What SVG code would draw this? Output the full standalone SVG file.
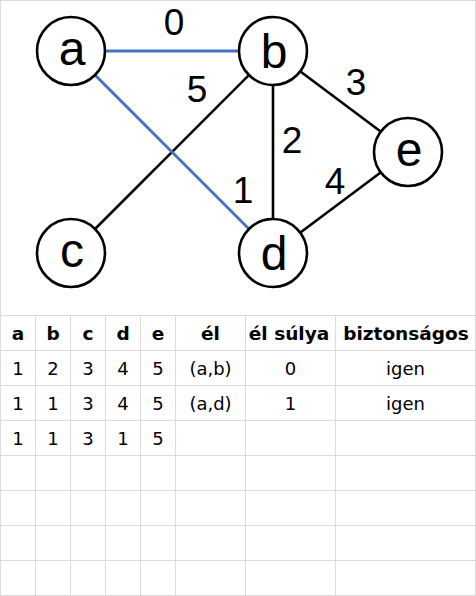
<svg xmlns="http://www.w3.org/2000/svg" width="476" height="596" viewBox="0 0 476 596">
<style>
.grid{stroke:#dadada;stroke-width:1;fill:none}
.edge{stroke:#000;stroke-width:2.6;fill:none}
.sel{stroke:#4472c4;stroke-width:3;fill:none}
.node circle{fill:#fff;stroke:#000;stroke-width:2.6}
.node text{font-family:"Liberation Sans",Arial,sans-serif;font-size:48px;text-anchor:middle;fill:#000}
.w{font-family:"Liberation Sans",Arial,sans-serif;font-size:37px;text-anchor:middle;fill:#000}
.th{font-family:"DejaVu Sans",sans-serif;font-weight:bold;font-size:18.5px;text-anchor:middle;fill:#000}
.td{font-family:"DejaVu Sans",sans-serif;font-size:18px;text-anchor:middle;fill:#000}
</style>
<rect x="0" y="0" width="476" height="596" fill="#fff"/>
<g id="grid" class="grid">
<rect x="0.5" y="0.5" width="475" height="595"/>
<path d="M0 315.5H476M0 350.5H476M0 385.5H476M0 420.5H476M0 455.5H476M0 490.5H476M0 525.5H476M0 560.5H476"/>
<path d="M35.5 315.5V596M70.5 315.5V596M105.5 315.5V596M140.5 315.5V596M175.5 315.5V596M245.5 315.5V596M335.5 315.5V596"/>
</g>
<g id="connectors">
<line class="edge" x1="273" y1="51" x2="71" y2="253"/>
<line class="edge" x1="273" y1="51" x2="273" y2="253"/>
<line class="edge" x1="273" y1="51" x2="408" y2="152"/>
<line class="edge" x1="273" y1="253" x2="408" y2="152"/>
<line class="sel" x1="71" y1="51" x2="273" y2="51"/>
<line class="sel" x1="71" y1="51" x2="273" y2="253"/>
<text class="w" x="174" y="34.5">0</text>
<text class="w" x="197" y="102">5</text>
<text class="w" x="356" y="95">3</text>
<text class="w" x="292" y="153">2</text>
<text class="w" x="243" y="203">1</text>
<text class="w" x="335" y="194">4</text>
</g>
<g id="node-a" class="node"><circle cx="71" cy="51" r="34"/><text x="72" y="65">a</text></g>
<g id="node-b" class="node"><circle cx="273" cy="51" r="34"/><text x="274" y="67.5">b</text></g>
<g id="node-c" class="node"><circle cx="71" cy="253" r="34"/><text x="72" y="267">c</text></g>
<g id="node-d" class="node"><circle cx="273" cy="253" r="34"/><text x="274" y="269.5">d</text></g>
<g id="node-e" class="node"><circle cx="408" cy="152" r="34"/><text x="409" y="166">e</text></g>
<g id="table">
<text class="th" x="18" y="340">a</text>
<text class="th" x="53" y="340">b</text>
<text class="th" x="88" y="340">c</text>
<text class="th" x="123" y="340">d</text>
<text class="th" x="158" y="340">e</text>
<text class="th" x="210.5" y="340">él</text>
<text class="th" x="289" y="340">él súlya</text>
<text class="th" x="406" y="340">biztonságos</text>
<text class="td" x="18" y="375">1</text>
<text class="td" x="53" y="375">2</text>
<text class="td" x="88" y="375">3</text>
<text class="td" x="123" y="375">4</text>
<text class="td" x="158" y="375">5</text>
<text class="td" x="210.5" y="375">(a,b)</text>
<text class="td" x="290.5" y="375">0</text>
<text class="td" x="405.5" y="375">igen</text>
<text class="td" x="18" y="410">1</text>
<text class="td" x="53" y="410">1</text>
<text class="td" x="88" y="410">3</text>
<text class="td" x="123" y="410">4</text>
<text class="td" x="158" y="410">5</text>
<text class="td" x="210.5" y="410">(a,d)</text>
<text class="td" x="290.5" y="410">1</text>
<text class="td" x="405.5" y="410">igen</text>
<text class="td" x="18" y="445">1</text>
<text class="td" x="53" y="445">1</text>
<text class="td" x="88" y="445">3</text>
<text class="td" x="123" y="445">1</text>
<text class="td" x="158" y="445">5</text>
</g>
</svg>
